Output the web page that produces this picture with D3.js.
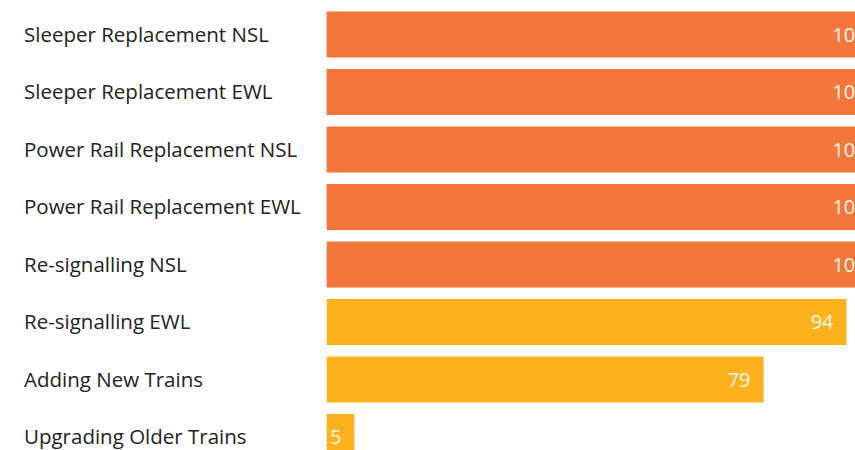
<!DOCTYPE html>
<html>
<head>
<meta charset="utf-8">
<script src="https://cdn.jsdelivr.net/npm/d3@7"></script>
<style>
  html, body { margin: 0; padding: 0; background: #fff; overflow: hidden; }
  #chart { width: 855px; height: 450px; overflow: hidden; }
  .cat { font-family: "Open Sans", sans-serif; font-size: 20.5px; fill: #222; }
  .val { font-family: "Open Sans", sans-serif; font-size: 20px; fill: #fff8ee; }
</style>
</head>
<body>
<div id="chart"></div>
<script>
// data
const categories = [
  "Sleeper Replacement NSL",
  "Sleeper Replacement EWL",
  "Power Rail Replacement NSL",
  "Power Rail Replacement EWL",
  "Re-signalling NSL",
  "Re-signalling EWL",
  "Adding New Trains",
  "Upgrading Older Trains"
];
const progress = [100, 100, 100, 100, 100, 94, 79, 5];
const status = ["Done", "Done", "Done", "Done", "Done", "Ongoing", "Ongoing", "Ongoing"];

const width = 855, height = 450;
const left = 326.7;

const rows = categories.map((c, i) => ({ name: c, value: progress[i], status: status[i] }));

// the chart is wider than the window in the reference, the 100 labels get cut at the right edge
const svg = d3.select("#chart").append("svg")
    .attr("width", width)
    .attr("height", height)
    .style("overflow", "hidden");

const x = d3.scaleLinear().domain([0, 100]).range([0, 553]);
const y = d3.scaleBand().domain(categories).range([0, 471.5]).padding(0.2);
const color = d3.scaleOrdinal().domain(["Done", "Ongoing"]).range(["#f4763b", "#fdb11a"]);

// category labels
svg.selectAll("text.cat")
  .data(rows)
  .join("text")
    .attr("class", "cat")
    .attr("x", 24)
    .attr("y", d => y(d.name) + y.bandwidth() / 2)
    .attr("dy", "0.35em")
    .text(d => d.name);

const g = svg.append("g").attr("transform", `translate(${left},0)`);

g.selectAll("rect")
  .data(rows)
  .join("rect")
    .attr("x", 0)
    .attr("y", d => y(d.name))
    .attr("width", d => x(d.value))
    .attr("height", y.bandwidth())
    .attr("fill", d => color(d.status));

// value labels inside bar ends
g.selectAll("text.val")
  .data(rows)
  .join("text")
    .attr("class", "val")
    .attr("x", d => x(d.value) - 13)
    .attr("y", d => y(d.name) + y.bandwidth() / 2)
    .attr("dy", "0.35em")
    .attr("text-anchor", "end")
    .text(d => d.value);
</script>
</body>
</html>
